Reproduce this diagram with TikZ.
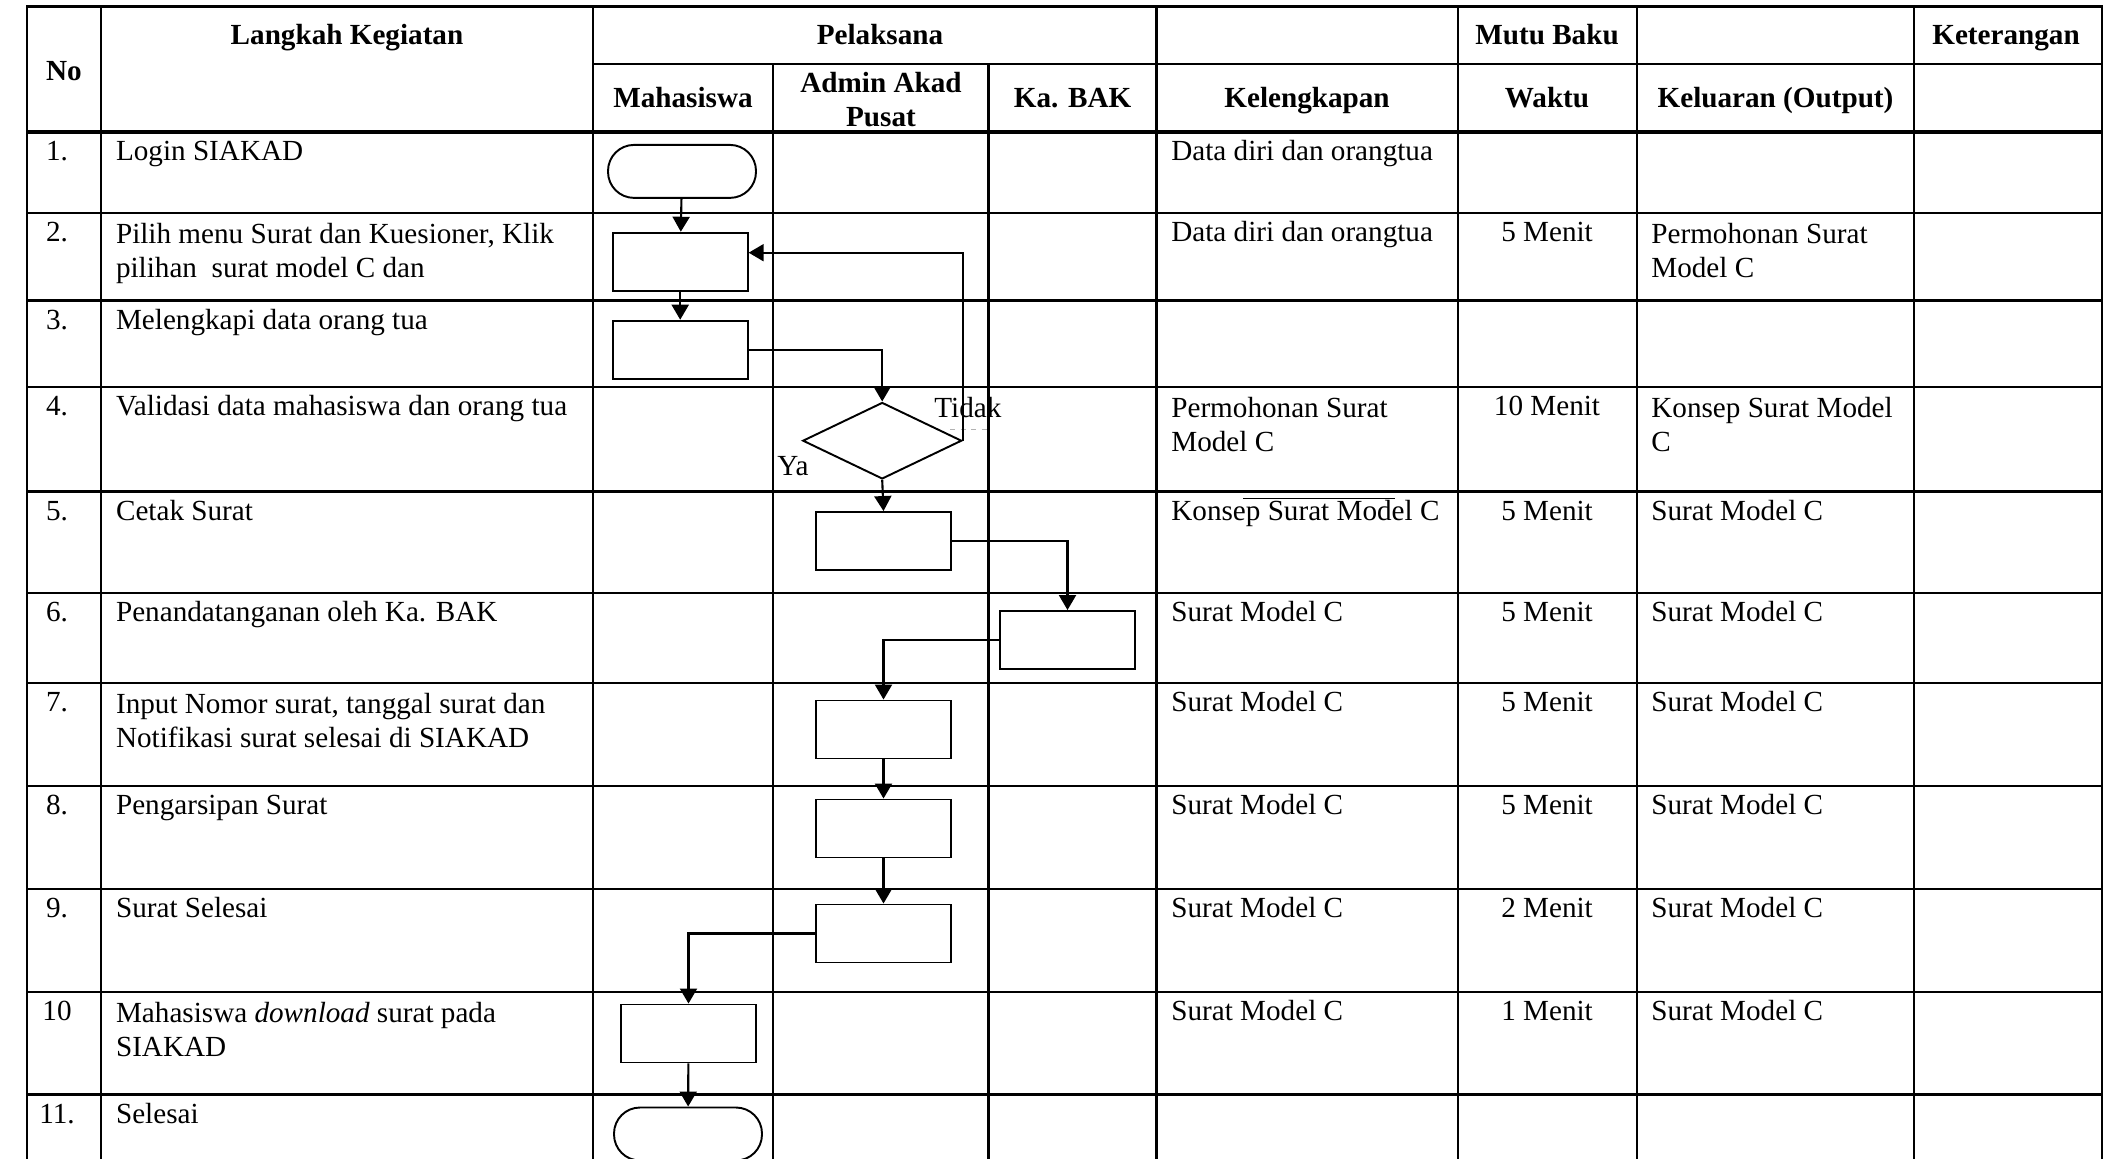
\documentclass[tikz,border=0pt]{standalone}
\usepackage{fontspec}
\setmainfont{Liberation Serif}
\usetikzlibrary{arrows.meta,shapes.geometric}

\begin{document}
\begin{tikzpicture}[x=0.02cm,y=-0.02cm,
    grid/.style={line width=1.6pt,line cap=rect},
    proc/.style={draw,line width=1.1pt,minimum width=2.7cm,minimum height=1.16cm,inner sep=0pt},
    term/.style={draw,line width=1.1pt,rounded corners=0.52cm,minimum width=2.96cm,minimum height=1.06cm,inner sep=0pt},
    dec/.style={draw,diamond,line width=1.1pt,minimum width=3.18cm,minimum height=1.53cm,inner sep=0pt},
    arr/.style={line width=1.2pt,-{Triangle[width=0.34cm,length=0.3cm]}},
    cell/.style={font=\fontsize{16.6}{19.4}\selectfont,inner sep=0pt,align=left,execute at begin node=\strut},
    txt/.style={cell,anchor=north west},
    mid/.style={cell,anchor=north,align=center},
    hd/.style={mid,font=\fontsize{16.6}{19.4}\selectfont\bfseries}]
    \useasboundingbox (0,0) rectangle (2109,1159);

    % tabel
    \draw[grid] (27,6.7) -- (2102,6.7);
    \draw[grid] (593,64) -- (2102,64);
    \draw[line width=2.6pt] (27,132) -- (2102,132);
    \draw[grid] (27,213) -- (2102,213);
    \draw[grid] (27,300.5) -- (2102,300.5);
    \draw[grid] (27,387) -- (2102,387);
    \draw[grid] (27,491.5) -- (2102,491.5);
    \draw[grid] (27,593) -- (2102,593);
    \draw[grid] (27,683) -- (2102,683);
    \draw[grid] (27,786) -- (2102,786);
    \draw[grid] (27,889) -- (2102,889);
    \draw[grid] (27,992) -- (2102,992);
    \draw[grid] (27,1094.5) -- (2102,1094.5);
    \draw[grid] (27,6.7) -- (27,1170);
    \draw[grid] (101,6.7) -- (101,1170);
    \draw[grid] (593,6.7) -- (593,1170);
    \draw[grid] (773,64) -- (773,1170);
    \draw[grid] (988.6,64) -- (988.6,1170);
    \draw[grid] (1156.7,6.7) -- (1156.7,1170);
    \draw[grid] (1458,6.7) -- (1458,1170);
    \draw[grid] (1637,6.7) -- (1637,1170);
    \draw[grid] (1914,6.7) -- (1914,1170);
    \draw[grid] (2102,6.7) -- (2102,1170);

    % kepala tabel
    \node (hno) [hd] at (64,56.5) {No};
    \node (hlangkah) [hd] at (347,20.5) {Langkah Kegiatan};
    \node (hpel) [hd] at (880,20.5) {Pelaksana};
    \node (hmhs) [hd] at (683,83.7) {Mahasiswa};
    \node (hadm) [hd] at (881,71.7) {Admin Akad\\Pusat};
    \node (hbak) [hd] at (1072.6,83.7) {Ka. BAK};
    \node (hkel) [hd] at (1307,83.7) {Kelengkapan};
    \node (hmutu) [hd] at (1547,20.5) {Mutu Baku};
    \node (hwaktu) [hd] at (1547,83.7) {Waktu};
    \node (hout) [hd] at (1775.5,83.7) {Keluaran (Output)};
    \node (hket) [hd] at (2006,20.5) {Keterangan};

    % isi
    \node (n1) [mid] at (57,136.5) {1.};
    \node (n2) [mid] at (57,217.5) {2.};
    \node (n3) [mid] at (57,305) {3.};
    \node (n4) [mid] at (57,391.5) {4.};
    \node (n5) [mid] at (57,496) {5.};
    \node (n6) [mid] at (57,597.5) {6.};
    \node (n7) [mid] at (57,687.5) {7.};
    \node (n8) [mid] at (57,790.5) {8.};
    \node (n9) [mid] at (57,893.5) {9.};
    \node (n10) [mid] at (57,996.5) {10};
    \node (n11) [mid] at (57,1099) {11.};

    \node (l1) [txt] at (115.7,136.5) {Login SIAKAD};
    \node (l2) [txt] at (115.7,222.5) {Pilih menu Surat dan Kuesioner, Klik\\pilihan\ \ surat model C dan};
    \node (l3) [txt] at (115.7,305) {Melengkapi data orang tua};
    \node (l4) [txt] at (115.7,391.5) {Validasi data mahasiswa dan orang tua};
    \node (l5) [txt] at (115.7,496) {Cetak Surat};
    \node (l6) [txt] at (115.7,597.5) {Penandatanganan oleh Ka. BAK};
    \node (l7) [txt] at (115.7,692.5) {Input Nomor surat, tanggal surat dan\\Notifikasi surat selesai di SIAKAD};
    \node (l8) [txt] at (115.7,790.5) {Pengarsipan Surat};
    \node (l9) [txt] at (115.7,893.5) {Surat Selesai};
    \node (l10) [txt] at (115.7,1001.5) {Mahasiswa \textit{download} surat pada\\SIAKAD};
    \node (l11) [txt] at (115.7,1099) {Selesai};

    \node (k1) [txt] at (1171,136.5) {Data diri dan orangtua};
    \node (k2) [txt] at (1171,217.5) {Data diri dan orangtua};
    \node (k4) [txt] at (1171,396.5) {Permohonan Surat\\Model C};
    \node (k5) [txt] at (1171,496) {Konsep Surat Model C};
    \node (k6) [txt] at (1171,597.5) {Surat Model C};
    \node (k7) [txt] at (1171,687.5) {Surat Model C};
    \node (k8) [txt] at (1171,790.5) {Surat Model C};
    \node (k9) [txt] at (1171,893.5) {Surat Model C};
    \node (k10) [txt] at (1171,996.5) {Surat Model C};

    \node (w2) [mid] at (1547,217.5) {5 Menit};
    \node (w4) [mid] at (1547,391.5) {10 Menit};
    \node (w5) [mid] at (1547,496) {5 Menit};
    \node (w6) [mid] at (1547,597.5) {5 Menit};
    \node (w7) [mid] at (1547,687.5) {5 Menit};
    \node (w8) [mid] at (1547,790.5) {5 Menit};
    \node (w9) [mid] at (1547,893.5) {2 Menit};
    \node (w10) [mid] at (1547,996.5) {1 Menit};

    \node (o2) [txt] at (1651,222.5) {Permohonan Surat\\Model C};
    \node (o4) [txt] at (1651,396.5) {Konsep Surat Model\\C};
    \node (o5) [txt] at (1651,496) {Surat Model C};
    \node (o6) [txt] at (1651,597.5) {Surat Model C};
    \node (o7) [txt] at (1651,687.5) {Surat Model C};
    \node (o8) [txt] at (1651,790.5) {Surat Model C};
    \node (o9) [txt] at (1651,893.5) {Surat Model C};
    \node (o10) [txt] at (1651,996.5) {Surat Model C};

    \draw[line width=0.8pt] (1243,498.5) -- (1395,498.5);

    % bagan alir
    \node (mulai) [term] at (682,171.4) {};
    \node (pilih) [proc] at (680.2,261.7) {};
    \node (lengkap) [proc] at (680.2,349.7) {};
    \node (valid) [dec] at (882.2,440.7) {};
    \node (cetak) [proc] at (883.5,541) {};
    \node (ttd) [proc] at (1067.5,640) {};
    \node (input) [proc] at (883.5,729.5) {};
    \node (arsip) [proc] at (883.5,828.5) {};
    \node (siap) [proc] at (883.5,933.5) {};
    \node (unduh) [proc] at (688.5,1033.5) {};
    \node (akhir) [term] at (688,1134) {};

    \node (tidak) [cell,anchor=north west] at (934,393.5) {Tidak};
    \node (ya) [cell,anchor=north west] at (777,451) {Ya};
    \draw[gray!60,dashed,line width=0.5pt] (950,429) -- (992,429);

    \draw[arr] (mulai) -- (pilih);
    \draw[arr] (pilih) -- (lengkap);
    \draw[arr] (lengkap.east) -| (valid.north);
    \draw[arr] (valid.east) |- ([yshift=0.18cm]pilih.east);
    \draw[arr] (valid.south) -- (cetak.north);
    \draw[arr] (cetak.east) -| (ttd.north);
    \draw[arr] (ttd.west) -| (input.north);
    \draw[arr] (input) -- (arsip);
    \draw[arr] (arsip) -- (siap);
    \draw[arr] (siap.west) -| (unduh.north);
    \draw[arr] (unduh) -- (akhir);
\end{tikzpicture}
\end{document}
